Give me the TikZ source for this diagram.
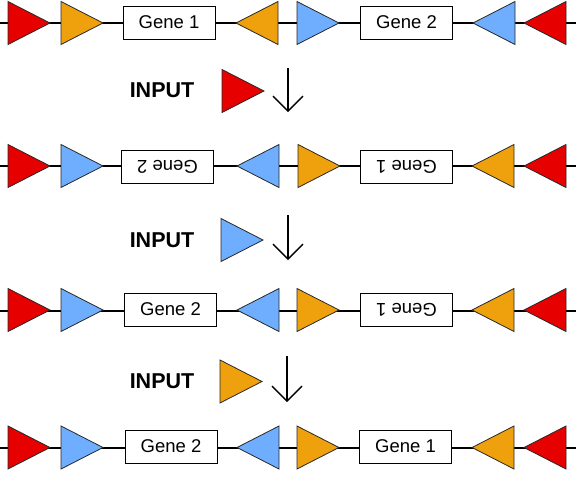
\documentclass[tikz,border=0pt]{standalone}
\usepackage{fontspec}
\setmainfont{Liberation Sans}
\usetikzlibrary{shapes.geometric,arrows.meta}
\definecolor{cred}{RGB}{230,0,0}
\definecolor{corange}{RGB}{239,161,13}
\definecolor{cblue}{RGB}{111,174,255}
\definecolor{cedge}{RGB}{40,40,40}
\tikzset{
  tri/.style={isosceles triangle, isosceles triangle stretches, minimum width=43pt, minimum height=42pt, inner sep=0pt, outer sep=0pt, draw=cedge, line width=0.8pt, anchor=apex},
  rt/.style={tri, shape border rotate=0},
  lt/.style={tri, shape border rotate=180},
  genebox/.style={draw=black, fill=white, line width=0.9pt, minimum width=92pt, minimum height=33pt, inner sep=0pt, font=\fontsize{18.5}{22}\selectfont},
  flipped/.style={rotate=180},
  dnaline/.style={line width=2pt, black},
  inputlbl/.style={font=\bfseries\fontsize{21.5}{25}\selectfont, inner sep=0pt},
  downarrow/.style={line width=1.3pt, -{Straight Barb[length=15pt,width=30pt,line width=1.3pt]}}
}
\begin{document}
\begin{tikzpicture}[x=1pt,y=-1pt]
\useasboundingbox (0,0) rectangle (576,483);
% Row 1
\coordinate (L1) at (0,23); \coordinate (E1) at (576,23);
\draw[dnaline] (L1) -- (E1);
\node[rt, fill=cred] (r1a) at (50,23) {};
\node[rt, fill=corange] (r1b) at (103,23) {};
\node[genebox] (r1g1) at (169,22.5) {Gene 1};
\node[lt, fill=corange] (r1c) at (236,23) {};
\node[rt, fill=cblue] (r1d) at (339,23) {};
\node[genebox] (r1g2) at (406.5,22.5) {Gene 2};
\node[lt, fill=cblue] (r1e) at (473,23) {};
\node[lt, fill=cred] (r1f) at (524,23) {};
% Input 1
\node[inputlbl] (in1) at (162,90) {INPUT};
\node[rt, fill=cred] (in1t) at (264,91) {};
\coordinate (a1s) at (288,68); \coordinate (a1e) at (288,112);
\draw[downarrow] (a1s) -- (a1e);
% Row 2
\coordinate (L2) at (0,166); \coordinate (E2) at (576,166);
\draw[dnaline] (L2) -- (E2);
\node[rt, fill=cred] (r2a) at (50,166) {};
\node[rt, fill=cblue] (r2b) at (103,166) {};
\node[genebox, flipped] (r2g1) at (167.5,166.5) {Gene 2};
\node[lt, fill=cblue] (r2c) at (237,166) {};
\node[rt, fill=corange] (r2d) at (340,166) {};
\node[genebox, flipped] (r2g2) at (406.5,166.5) {Gene 1};
\node[lt, fill=corange] (r2e) at (472,166) {};
\node[lt, fill=cred] (r2f) at (524,166) {};
% Input 2
\node[inputlbl] (in2) at (162,240) {INPUT};
\node[rt, fill=cblue] (in2t) at (263,240) {};
\coordinate (a2s) at (288,215); \coordinate (a2e) at (288,260);
\draw[downarrow] (a2s) -- (a2e);
% Row 3
\coordinate (L3) at (0,311); \coordinate (E3) at (576,311);
\draw[dnaline] (L3) -- (E3);
\node[rt, fill=cred] (r3a) at (50,310) {};
\node[rt, fill=cblue] (r3b) at (103,310) {};
\node[genebox] (r3g1) at (170.5,309.5) {Gene 2};
\node[lt, fill=cblue] (r3c) at (237,310) {};
\node[rt, fill=corange] (r3d) at (339,310) {};
\node[genebox, flipped] (r3g2) at (406.5,309.5) {Gene 1};
\node[lt, fill=corange] (r3e) at (472,310) {};
\node[lt, fill=cred] (r3f) at (524,310) {};
% Input 3
\node[inputlbl] (in3) at (162,381) {INPUT};
\node[rt, fill=corange] (in3t) at (262,381.5) {};
\coordinate (a3s) at (287,356); \coordinate (a3e) at (287,402);
\draw[downarrow] (a3s) -- (a3e);
% Row 4
\coordinate (L4) at (0,448); \coordinate (E4) at (576,448);
\draw[dnaline] (L4) -- (E4);
\node[rt, fill=cred] (r4a) at (50,447.5) {};
\node[rt, fill=cblue] (r4b) at (103,447.5) {};
\node[genebox] (r4g1) at (171,446.5) {Gene 2};
\node[lt, fill=cblue] (r4c) at (237,447.5) {};
\node[rt, fill=corange] (r4d) at (339,447.5) {};
\node[genebox] (r4g2) at (405.5,446.5) {Gene 1};
\node[lt, fill=corange] (r4e) at (472,447.5) {};
\node[lt, fill=cred] (r4f) at (524,447.5) {};
\end{tikzpicture}
\end{document}
